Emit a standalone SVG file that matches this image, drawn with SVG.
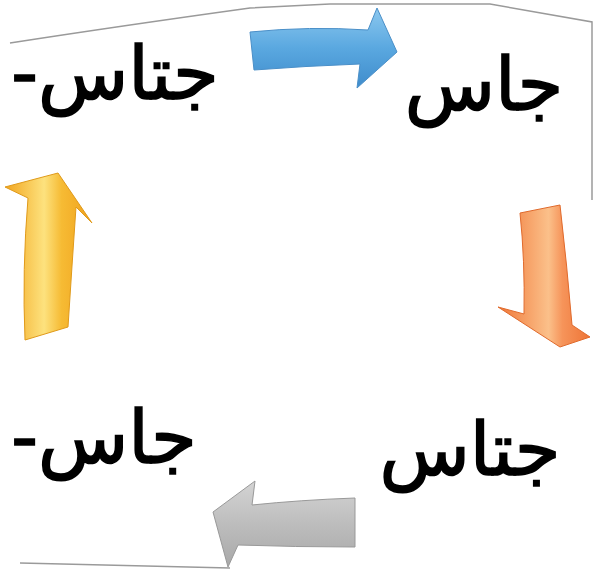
<svg xmlns="http://www.w3.org/2000/svg" width="599" height="571" viewBox="0 0 599 571">
<style>
.lbl{font-family:"DejaVu Sans",sans-serif;font-size:74px;fill:#000;stroke:#000;stroke-width:1.6;text-anchor:middle}
.edge{fill:none;stroke:#9a9a9a;stroke-width:1.5}
.ol{stroke-width:1;stroke-linejoin:round}
</style>
<defs>
<linearGradient id="gBlue" x1="0" y1="0" x2="0" y2="1">
<stop offset="0" stop-color="#8cc8ef"/><stop offset="0.5" stop-color="#5aa8e0"/><stop offset="1" stop-color="#3f8ccc"/>
</linearGradient>
<linearGradient id="gOrange" x1="0" y1="0" x2="1" y2="0">
<stop offset="0" stop-color="#f07636"/><stop offset="0.55" stop-color="#fbc08a"/><stop offset="0.7" stop-color="#f6945a"/><stop offset="1" stop-color="#ee7436"/>
</linearGradient>
<linearGradient id="gYellow" x1="0" y1="0" x2="1" y2="0">
<stop offset="0" stop-color="#f2a51e"/><stop offset="0.45" stop-color="#fde27e"/><stop offset="0.65" stop-color="#f6bb34"/><stop offset="1" stop-color="#f0a11c"/>
</linearGradient>
<linearGradient id="gGray" x1="0" y1="0" x2="0" y2="1">
<stop offset="0" stop-color="#d4d4d4"/><stop offset="0.5" stop-color="#bdbdbd"/><stop offset="1" stop-color="#a8a8a8"/>
</linearGradient>
</defs>
<g id="paper">
<path class="edge" d="M10,43 Q120,26 250,8 L330,4 L490,4 L592,22 L592,200"/>
<path class="edge" d="M20,563 Q120,565 230,568"/>
</g>
<g id="connectors">
<path class="ol" fill="url(#gBlue)" stroke="#4a8fc8" d="M250,32 Q310,26 368,30 L377,8 L397,52 L357,88 L360,64 Q305,66 254,70 Z"/>
<path class="ol" fill="url(#gOrange)" stroke="#e06a2c" d="M520,213 L560,205 Q567,265 572,325 L590,337 L560,347 L498,307 L524,314 Q525,260 520,213 Z"/>
<path class="ol" fill="url(#gYellow)" stroke="#e09a1a" d="M25,340 Q22,270 28,198 L5,187 L58,173 L92,223 L76,207 Q72,265 68,327 Z"/>
<path class="ol" fill="url(#gGray)" stroke="#999" d="M355,498 Q300,500 252,505 L255,481 L213,512 L228,567 L238,545 Q295,547 355,547 Z"/>
</g>
<g id="n1"><text class="lbl" x="115" y="99" font-size="76">-جتاس</text></g>
<g id="n2"><text class="lbl" x="484" y="110" font-size="70">جاس</text></g>
<g id="n3"><text class="lbl" x="470" y="475" font-size="72">جتاس</text></g>
<g id="n4"><text class="lbl" x="104" y="463" font-size="72">-جاس</text></g>
</svg>
